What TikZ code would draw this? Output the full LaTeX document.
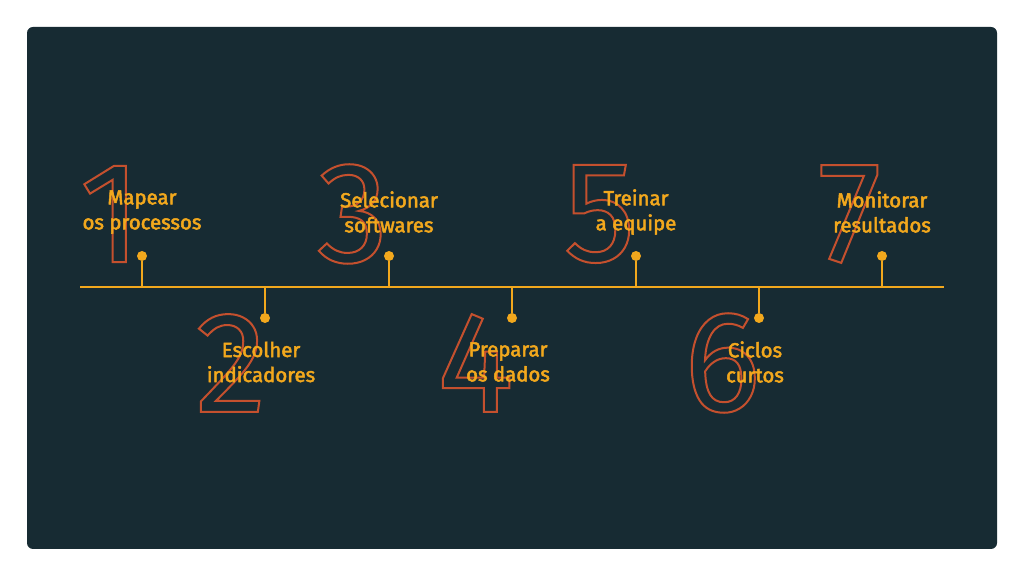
\documentclass[tikz,border=0pt]{standalone}
\usepackage{fontspec}
\setmainfont{Fira Sans}
\newfontfamily\digitfont{Fira Sans}
\definecolor{panel}{HTML}{172B33}
\definecolor{lineorange}{HTML}{F2A81D}
\definecolor{digitred}{HTML}{C4502E}
\newcommand{\outlined}[1]{\special{pdf:code 1 Tr 1 w}#1\special{pdf:code 0 Tr}}
\newcommand{\heavier}[1]{\special{pdf:code 2 Tr 0.25 w}#1\special{pdf:code 0 Tr}}
\begin{document}
\begin{tikzpicture}[x=0.5pt, y=-0.5pt,
    label/.style={text=lineorange, align=center, font=\fontsize{10.2}{12.5}\selectfont, inner sep=0pt},
    digit/.style={text=digitred, font=\digitfont\fontsize{72}{72}\selectfont, inner sep=0pt, anchor=east},
    stem/.style={draw=lineorange, line width=1.2pt},
    dot/.style={circle, fill=lineorange, minimum size=5pt, inner sep=0pt}]
    \useasboundingbox (0,0) rectangle (1024,576);
    \fill[white] (0,0) rectangle (1024,576);
    \fill[panel, rounded corners=3pt] (27,27) rectangle (997,549);
    % timeline
    \coordinate (start) at (80,287);
    \coordinate (end) at (944,287);
    \draw[stem] (start) -- (end);
    % items above
    \foreach \n/\x/\first/\second in {1/142/Mapear/os processos, 3/389/Selecionar/softwares, 5/636/Treinar/a equipe, 7/882/Monitorar/resultados} {
        \node[digit] (digit\n) at (\x,214) {\outlined{\n}};
        \coordinate (base\n) at (\x,287);
        \node[dot] (dot\n) at (\x,256) {};
        \draw[stem] (base\n) -- (dot\n);
        \node[label] (text\n) at (\x,212) {\heavier{\first}\\\heavier{\second}};
    }
    % items below
    \foreach \n/\x/\first/\second in {2/265/Escolher/indicadores, 4/512/Preparar/os dados, 6/759/Ciclos/curtos} {
        \node[digit] (digit\n) at (\x+2,363) {\outlined{\n}};
        \coordinate (base\n) at (\x,287);
        \node[dot] (dot\n) at (\x,318) {};
        \draw[stem] (base\n) -- (dot\n);
        \node[label] (text\n) at (\x-4,362) {\heavier{\first}\\\heavier{\second}};
    }
\end{tikzpicture}
\end{document}
